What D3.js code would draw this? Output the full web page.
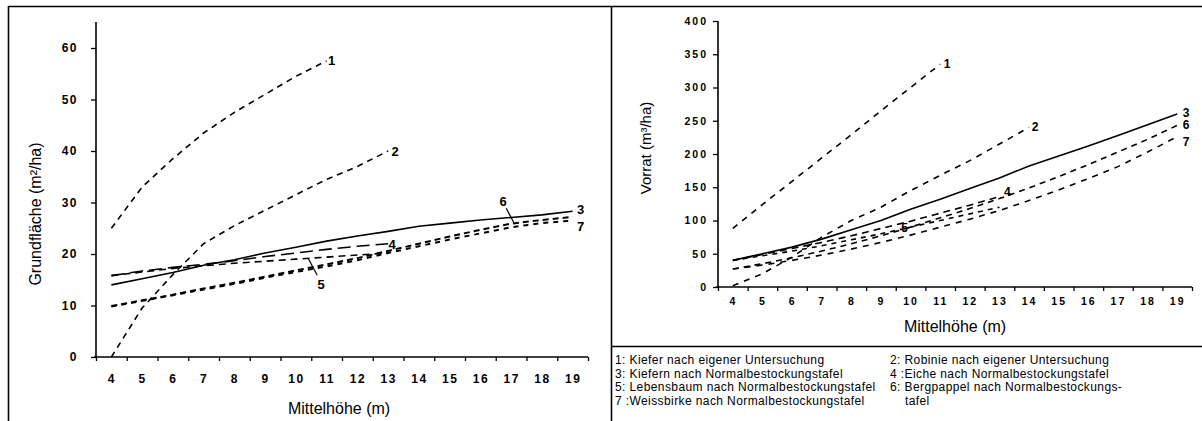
<!DOCTYPE html>
<html>
<head>
<meta charset="utf-8">
<script src="https://cdn.jsdelivr.net/npm/d3@7"></script>
<style>
  html, body { margin: 0; padding: 0; background: #fff; }
  svg { display: block; }
  .tick text { font-family: "Liberation Sans", Arial, sans-serif; font-weight: bold; }
</style>
</head>
<body>
<svg id="chart" width="1202" height="421"></svg>
<script>
// Mittelhöhe classes (m)
const hoehe = [4, 5, 6, 7, 8, 9, 10, 11, 12, 13, 14, 15, 16, 17, 18, 19];

// Grundfläche (m²/ha) per Mittelhöhe, starting at 4 m
const grund1 = [25, 33, 38.5, 43.5, 47.5, 51, 54.5, 57.5];
const grund2 = [0, 9.5, 16, 22, 25.5, 28.5, 31.5, 34.5, 37, 40];
const grund3 = [14, 15.2, 16.4, 17.8, 18.9, 20.2, 21.3, 22.5, 23.5, 24.4, 25.4, 26.0, 26.6, 27.1, 27.6, 28.3];
const grund4 = [15.8, 16.7, 17.4, 18.0, 18.7, 19.5, 20.2, 20.9, 21.5, 22.0];
const grund5 = [15.8, 16.5, 17.2, 17.7, 18.2, 18.6, 19.0, 19.4, 19.8, 20.2];
const grund6 = [9.9, 11.0, 12.1, 13.3, 14.4, 15.6, 16.8, 18.0, 19.2, 20.6, 22.0, 23.4, 24.7, 25.9, 26.6, 27.2];
const grund7 = [9.8, 10.9, 12.0, 13.1, 14.2, 15.4, 16.5, 17.6, 18.8, 20.2, 21.5, 22.8, 24.0, 25.2, 26.0, 26.5];

// Vorrat (m³/ha) per Mittelhöhe, starting at 4 m
const vorrat1 = [88, 124, 159, 194, 229, 265, 300, 335];
const vorrat2 = [2, 20, 45, 75, 100, 120, 145, 168, 190, 215, 240];
const vorrat3 = [40, 50, 60, 72, 86, 100, 117, 132, 148, 164, 182, 197, 212, 228, 244, 260];
const vorrat4 = [40, 49, 58, 67, 77, 88, 99, 111, 123, 136];
const vorrat5 = [40, 47, 54, 62, 71, 80, 90, 100, 110, 120];
const vorrat6 = [27, 35, 44, 54, 65, 77, 90, 104, 118, 133, 149, 166, 184, 203, 222, 243];
const vorrat7 = [27, 33, 40, 48, 57, 67, 78, 90, 102, 115, 130, 146, 163, 181, 203, 226];

// Axis ticks
const grundTicks = [0, 10, 20, 30, 40, 50, 60];
const vorratTicks = [0, 50, 100, 150, 200, 250, 300, 350, 400];

// Legend
const legendLeft = [
  "1: Kiefer nach eigener Untersuchung",
  "3: Kiefern nach Normalbestockungstafel",
  "5: Lebensbaum nach Normalbestockungstafel",
  "7 :Weissbirke nach Normalbestockungstafel"
];
const legendRight = [
  "2: Robinie nach eigener Untersuchung",
  "4 :Eiche nach Normalbestockungstafel",
  "6: Bergpappel nach Normalbestockungs-",
  "    tafel"
];

const svg = d3.select("#chart");
const FONT = "'Liberation Sans', Arial, sans-serif";

// ---- frame ----
const frame = svg.append("g").attr("stroke", "#000").attr("fill", "none");
frame.append("line").attr("x1", 8).attr("x2", 1202).attr("y1", 6.5).attr("y2", 6.5).attr("stroke-width", 1.6);
frame.append("line").attr("x1", 8.5).attr("x2", 8.5).attr("y1", 6).attr("y2", 421).attr("stroke-width", 1.6);
frame.append("line").attr("x1", 611.5).attr("x2", 611.5).attr("y1", 6).attr("y2", 421).attr("stroke-width", 1.6);
frame.append("line").attr("x1", 611).attr("x2", 1202).attr("y1", 346.5).attr("y2", 346.5).attr("stroke-width", 1.3);

function series(values, style) {
  return { pts: values.map((v, i) => [hoehe[i], v]), style };
}

function valueAt(s, h) {
  for (let i = 0; i < s.pts.length - 1; i++) {
    const [h0, v0] = s.pts[i], [h1, v1] = s.pts[i + 1];
    if (h >= h0 && h <= h1) return v0 + (v1 - v0) * (h - h0) / (h1 - h0);
  }
  return s.pts[s.pts.length - 1][1];
}

function drawPanel(cfg) {
  const g = svg.append("g");
  const x = d3.scaleLinear().domain([3.5, 19.5]).range([cfg.x0, cfg.x1]);
  const y = d3.scaleLinear().domain([0, cfg.yMax]).range([cfg.y0, cfg.yTopVal]);

  // y axis
  const ya = g.append("g").attr("transform", `translate(${cfg.x0},0)`)
    .call(d3.axisLeft(y).tickValues(cfg.yTicks).tickSize(5).tickPadding(cfg.yPad));
  ya.select(".domain").remove();
  ya.selectAll(".tick line").attr("stroke-width", 1.3);
  ya.selectAll(".tick text").attr("font-size", cfg.tickFont).attr("letter-spacing", cfg.tickSpacing).attr("fill", "#000");
  g.append("line").attr("x1", cfg.x0).attr("x2", cfg.x0).attr("y1", cfg.y0).attr("y2", cfg.yAxisTop)
    .attr("stroke", "#000").attr("stroke-width", 1.6);

  // x axis: tick marks between classes, labels at class centres
  const xa = g.append("g").attr("transform", `translate(0,${cfg.y0})`)
    .call(d3.axisBottom(x).tickValues(d3.range(3.5, 20, 1)).tickSize(4).tickFormat(""));
  xa.select(".domain").remove();
  xa.selectAll(".tick line").attr("stroke-width", 1.3);
  const xl = g.append("g").attr("transform", `translate(0,${cfg.y0})`)
    .call(d3.axisBottom(x).tickValues(hoehe).tickSize(0).tickPadding(cfg.xPad));
  xl.select(".domain").remove();
  xl.selectAll(".tick text").attr("font-size", cfg.tickFont).attr("letter-spacing", cfg.tickSpacing).attr("fill", "#000");
  g.append("line").attr("x1", cfg.x0 - 2).attr("x2", cfg.x1).attr("y1", cfg.y0).attr("y2", cfg.y0)
    .attr("stroke", "#000").attr("stroke-width", 1.6);

  // axis titles
  g.append("text").attr("x", (cfg.x0 + cfg.x1) / 2 + cfg.xTitleShift).attr("y", cfg.xTitleY)
    .attr("text-anchor", "middle").attr("font-family", FONT).attr("font-size", cfg.titleFont)
    .text("Mittelhöhe (m)");
  g.append("text").attr("transform", `translate(${cfg.yTitleX},${cfg.yTitleY}) rotate(-90)`)
    .attr("text-anchor", "middle").attr("font-family", FONT).attr("font-size", cfg.yTitleFont)
    .text(cfg.yTitle);

  // curves
  const line = d3.line().x(d => x(d[0])).y(d => y(d[1]));
  cfg.series.forEach(s => {
    g.append("path").attr("d", line(s.pts)).attr("fill", "none").attr("stroke", "#000")
      .attr("stroke-width", s.style.w || 1.6).attr("stroke-dasharray", s.style.dash || null);
  });

  // curve numbers
  cfg.labels.forEach(l => {
    const s = cfg.series[l.s];
    const h = l.at != null ? l.at : s.pts[s.pts.length - 1][0];
    const px = x(h), py = y(valueAt(s, h));
    if (l.leader) {
      g.append("line").attr("x1", px).attr("y1", py)
        .attr("x2", px + l.leader[0]).attr("y2", py + l.leader[1])
        .attr("stroke", "#000").attr("stroke-width", 1.2);
    }
    g.append("text").attr("x", px + l.dx).attr("y", py + l.dy)
      .attr("font-family", FONT).attr("font-size", cfg.numFont).attr("font-weight", "bold")
      .attr("text-anchor", "middle").text(l.text);
  });
}

// Grundfläche panel
drawPanel({
  x0: 96, x1: 588, y0: 357, yMax: 60, yTopVal: 48, yAxisTop: 22,
  yTicks: grundTicks, yPad: 13, xPad: 17, tickFont: 12, tickSpacing: 1.5,
  titleFont: 16, yTitleFont: 16, xTitleY: 414, xTitleShift: -3,
  yTitle: "Grundfläche (m²/ha)", yTitleX: 41, yTitleY: 214, numFont: 13,
  series: [
    series(grund1, { dash: "6,5" }),
    series(grund2, { dash: "6,5" }),
    series(grund3, { w: 1.6 }),
    series(grund4, { dash: "13,6" }),
    series(grund5, { dash: "7,5" }),
    series(grund6, { dash: "6,4", w: 2 }),
    series(grund7, { dash: "5,5", w: 2 })
  ],
  labels: [
    { s: 0, text: "1", dx: 5, dy: 4 },
    { s: 1, text: "2", dx: 7, dy: 5 },
    { s: 2, text: "3", dx: 8, dy: 3 },
    { s: 3, text: "4", dx: 4, dy: 5 },
    { s: 4, text: "5", at: 10.4, dx: 13, dy: 31, leader: [9, 17] },
    { s: 5, text: "6", at: 17.1, dx: -11, dy: -17, leader: [-8, -15] },
    { s: 6, text: "7", dx: 8, dy: 10 }
  ]
});

// Vorrat panel
drawPanel({
  x0: 718, x1: 1192, y0: 287, yMax: 400, yTopVal: 21, yAxisTop: 21,
  yTicks: vorratTicks, yPad: 5, xPad: 11, tickFont: 10.5, tickSpacing: 2,
  titleFont: 16, yTitleFont: 15, xTitleY: 332, xTitleShift: 0,
  yTitle: "Vorrat (m³/ha)", yTitleX: 651, yTitleY: 148, numFont: 12,
  series: [
    series(vorrat1, { dash: "6,6" }),
    series(vorrat2, { dash: "6,6" }),
    series(vorrat3, { w: 1.6 }),
    series(vorrat4, { dash: "7,5" }),
    series(vorrat5, { dash: "5,5" }),
    series(vorrat6, { dash: "6,5" }),
    series(vorrat7, { dash: "6,6" })
  ],
  labels: [
    { s: 0, text: "1", dx: 7, dy: 4 },
    { s: 1, text: "2", dx: 6, dy: 4 },
    { s: 2, text: "3", dx: 9, dy: 3 },
    { s: 3, text: "4", dx: 8, dy: -1 },
    { s: 4, text: "5", at: 9.8, dx: 0, dy: 4 },
    { s: 5, text: "6", dx: 9, dy: 4 },
    { s: 6, text: "7", dx: 9, dy: 9 }
  ]
});

// legend
const leg = svg.append("g").attr("font-family", FONT).attr("font-size", 12)
  .attr("letter-spacing", 0.4).attr("fill", "#000");
legendLeft.forEach((t, i) => {
  leg.append("text").attr("x", 615).attr("y", 364 + i * 13.5).text(t);
});
legendRight.forEach((t, i) => {
  leg.append("text").attr("x", 890).attr("y", 364 + i * 13.5).attr("xml:space", "preserve").text(t);
});
</script>
</body>
</html>
